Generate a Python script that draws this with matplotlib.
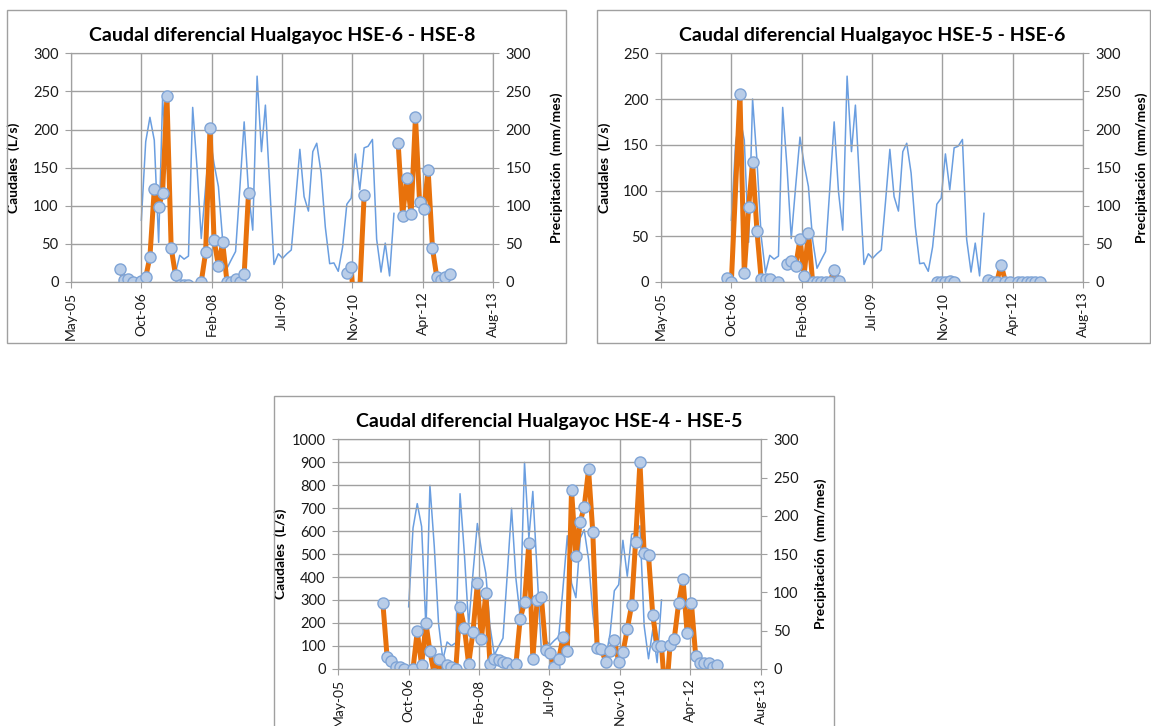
import matplotlib
matplotlib.use('Agg')
import matplotlib.pyplot as plt
import matplotlib.dates as mdates
from matplotlib.patches import Rectangle
import numpy as np
import pandas as pd
from datetime import datetime, timedelta

plt.rcParams['font.family'] = ['Lato', 'DejaVu Sans']

nan = np.nan

# precipitacion mensual (mm/mes), desde oct-2006
precip_inicio = '2006-10'
precip = [81, 184, 216, 186, 52, 240, 160, 60, 12, 35, 30, 34,
          229, 150, 57, 125, 190, 155, 125, 55, 18, 29, 40, 125,
          210, 118, 68, 270, 171, 232, 125, 23, 37, 31, 37, 42,
          105, 174, 112, 93, 171, 182, 143, 72, 24, 25, 14, 46,
          102, 110, 168, 121, 176, 178, 187, 56, 13, 51, 8, 90]

# caudal diferencial HSE-6 - HSE-8 (L/s); nan = corte de la linea
cau1_mes = ['2006-05', '2006-06', '2006-07', '2006-08', '2006-09', '2006-10', '2006-11',
            '2006-12', '2007-01', '2007-02', '2007-03', '2007-04', '2007-05', '2007-06',
            '2007-07', '2007-08', '2007-09', '2007-10', '2007-12', '2008-01', '2008-02',
            '2008-03', '2008-04', '2008-05', '2008-06', '2008-07', '2008-08', '2008-09',
            '2008-10', '2008-11', '2008-12', '2010-10', '2010-11', '2010-12', '2011-01',
            '2011-02', '2011-03', '2011-10', '2011-11', '2011-12', '2012-01', '2012-02',
            '2012-03', '2012-04', '2012-05', '2012-06', '2012-07', '2012-08', '2012-09',
            '2012-10']
cau1_val = [17, 3, 4, 0, nan, 1, 6,
            33, 122, 98, 117, 244, 45, 9,
            -4, -4, -4, nan, 0, 39, 202,
            55, 21, 52, 0, 0, 4, 0,
            10, 117, nan, 12, 19, -60, -10,
            114, nan, 182, 86, 136, 89, 217,
            105, 96, 147, 44, 7, 3, 7,
            11]

# caudal diferencial HSE-5 - HSE-6 (L/s)
cau2_mes = ['2006-09', '2006-10', '2006-12', '2007-01', '2007-02', '2007-03', '2007-04',
            '2007-05', '2007-06', '2007-07', '2007-09', '2007-10', '2007-11', '2007-12',
            '2008-01', '2008-02', '2008-03', '2008-04', '2008-05', '2008-06', '2008-07',
            '2008-08', '2008-09', '2008-10', '2008-11', '2008-12', '2010-10', '2010-11',
            '2010-12', '2011-01', '2011-02', '2011-03', '2011-10', '2011-11', '2011-12',
            '2012-01', '2012-02', '2012-03', '2012-05', '2012-06', '2012-07', '2012-08',
            '2012-09', '2012-10']
cau2_val = [4, 0, 206, 10, 82, 131, 56,
            3, 3, 3, 0, nan, 20, 23,
            17, 47, 7, 54, 0, 0, 0,
            0, 0, 13, 1.5, nan, 0, 0,
            0, 1, 0, nan, 2, 0, 0,
            19, 0, 0, 0, 0, 0, 0,
            0, 0]

# caudal diferencial HSE-4 - HSE-5 (L/s)
cau3_mes = ['2006-04', '2006-05', '2006-06', '2006-07', '2006-08', '2006-09', '2006-11',
            '2006-12', '2007-01', '2007-02', '2007-03', '2007-04', '2007-05', '2007-06',
            '2007-07', '2007-08', '2007-09', '2007-10', '2007-11', '2007-12', '2008-01',
            '2008-02', '2008-03', '2008-04', '2008-05', '2008-06', '2008-07', '2008-08',
            '2008-09', '2008-10', '2008-11', '2008-12', '2009-01', '2009-02', '2009-03',
            '2009-04', '2009-05', '2009-06', '2009-07', '2009-08', '2009-09', '2009-10',
            '2009-11', '2009-12', '2010-01', '2010-02', '2010-03', '2010-04', '2010-05',
            '2010-06', '2010-07', '2010-08', '2010-09', '2010-10', '2010-11', '2010-12',
            '2011-01', '2011-02', '2011-03', '2011-04', '2011-05', '2011-06', '2011-07',
            '2011-08', '2011-09', '2011-10', '2011-11', '2011-12', '2012-01', '2012-02',
            '2012-03', '2012-04', '2012-05', '2012-06', '2012-07', '2012-08', '2012-09',
            '2012-10']
cau3_val = [285, 49, 35, 9, 9, 0, 0,
            163, 15, 198, 76, -25, 41, -25,
            15, 9, 0, 270, 179, 20, 161,
            372, 128, 331, 20, 41, 38, 29,
            26, 0, 19, 217, 289, 549, 44,
            300, 311, 81, 70, 6, 41, 137,
            76, 779, 493, 641, 706, 869, 596,
            89, 84, 31, 78, 125, 31, 71,
            173, 278, 554, 900, 503, 494, 234,
            100, 100, -150, 105, 131, 288, 391,
            157, 285, 55, 23, 23, 26, 9,
            15]

titulos = ['Caudal diferencial Hualgayoc HSE-6 - HSE-8',
           'Caudal diferencial Hualgayoc HSE-5 - HSE-6',
           'Caudal diferencial Hualgayoc HSE-4 - HSE-5']

naranja = '#E8720C'
azul = '#6A9EE0'
gris = '#A0A0A0'


def fecha(s):
    y, m = s.split('-')
    return datetime(int(y), int(m), 10)


fechas_p = [d + timedelta(days=9) for d in pd.date_range(precip_inicio + '-01', periods=len(precip), freq='MS')]

base = datetime(2005, 5, 28)
xt = [base + timedelta(days=500 * k) for k in range(7)]

fig = plt.figure(figsize=(11.51, 7.26), dpi=100)

# marcos de cada grafico
for r in [(0.0061, 0.5275, 0.4857, 0.4587), (0.5187, 0.5275, 0.4805, 0.4587), (0.238, -0.01, 0.4865, 0.465)]:
    fig.patches.append(Rectangle(r[:2], r[2], r[3], transform=fig.transFigure,
                                 fill=False, edgecolor=gris, lw=1))


def panel(rect, titulo, meses, caudal, ymax, ystep, xl, xr):
    ax = fig.add_axes(rect)
    ax2 = ax.twinx()
    ax.set_zorder(ax2.get_zorder() + 1)
    ax.patch.set_visible(False)

    ax2.plot(fechas_p, precip, color=azul, lw=1.1)
    ax.plot([fecha(m) for m in meses], caudal, color=naranja, lw=3.6,
            marker='o', ms=8, mfc='#B9CDE8', mec='#7FA4D6', mew=1)

    ax.set_xlim(xt[0], xt[-1])
    ax.set_xticks(xt)
    ax.xaxis.set_major_formatter(mdates.DateFormatter('%b-%y'))
    ax.set_ylim(0, ymax)
    ax.set_yticks(np.arange(0, ymax + 1, ystep))
    ax2.set_ylim(0, 300)
    ax2.set_yticks(range(0, 301, 50))

    ax.grid(True, color=gris, lw=1)
    for a in (ax, ax2):
        for s in a.spines.values():
            s.set_color(gris)
        a.tick_params(axis='y', length=4, color=gris, labelsize=10.5, pad=5, labelcolor='#1a1a1a')
    ax.tick_params(axis='x', length=4, color=gris, labelsize=10, pad=3,
                   labelcolor='#1a1a1a', labelrotation=90)

    ax.set_title(titulo, fontsize=14, fontweight='bold', pad=9)
    ax.set_ylabel('Caudales  (L/s)', fontsize=10, fontweight='bold')
    ax.yaxis.set_label_coords(xl, 0.5)
    ax2.set_ylabel('Precipitación  (mm/mes)', fontsize=10, fontweight='bold')
    ax2.yaxis.set_label_coords(xr, 0.5)


panel([0.0617, 0.6116, 0.3666, 0.3150], titulos[0], cau1_mes, cau1_val, 300, 50, -0.121, 1.135)
panel([0.5743, 0.6116, 0.3666, 0.3150], titulos[1], cau2_mes, cau2_val, 250, 50, -0.118, 1.125)
panel([0.2939, 0.0789, 0.3669, 0.3158], titulos[2], cau3_mes, cau3_val, 1000, 100, -0.122, 1.128)

fig.savefig('out.png', dpi=100)
